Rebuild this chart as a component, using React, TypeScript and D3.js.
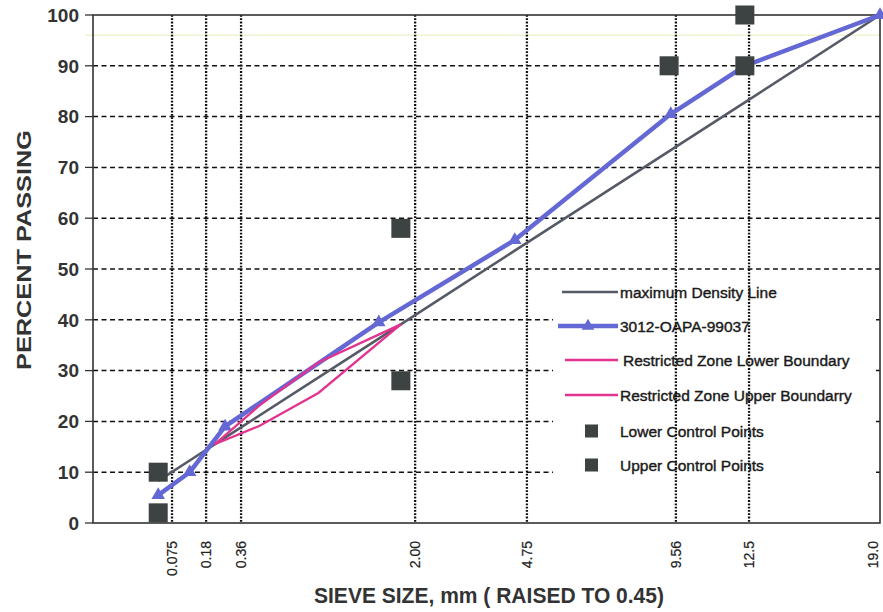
import React from "react";
import * as d3 from "d3";

// sieve sizes (mm) and percent passing
const sieves = [0.075, 0.18, 0.36, 2.0, 4.75, 9.56, 12.5, 19.0];
const maxDensity = [8.3, 12.3, 16.8, 36.3, 53.6, 73.4, 82.8, 100];
const gradation = [5.5, 10, 19, 39.5, 55.7, 80.5, 90, 100];

const zoneSieves = [0.3, 0.6, 1.18, 2.36];
const zoneLower = [15.5, 19.1, 25.6, 39.1];
const zoneUpper = [15.5, 23.1, 31.6, 39.1];

const lowerCtrlSieves = [0.075, 2.36, 12.5];
const lowerCtrl = [2, 28, 90];
const upperCtrlSieves = [0.075, 2.36, 9.5, 12.5];
const upperCtrl = [10, 58, 90, 100];

// where the dotted lines / labels sit on the chart (mm)
const tickLabels = ["0.075", "0.18", "0.36", "2.00", "4.75", "9.56", "12.5", "19.0"];
const tickAt = [0.115, 0.255, 0.464, 2.61, 5.06, 9.75, 12.68, 18.6];
const yTicks = [0, 10, 20, 30, 40, 50, 60, 70, 80, 90, 100];

const legendItems = [
  "maximum Density Line",
  "3012-OAPA-99037",
  "Restricted Zone Lower Boundary",
  "Restricted Zone Upper Boundarry",
  "Lower Control Points",
  "Upper Control Points",
];

const W = 883;
const H = 612;
const FONT = "'Liberation Sans', Arial, Helvetica, sans-serif";
const BLUE = "#6468d4";
const PINK = "#e2338f";
const GREY = "#555a66";
const SQ = "#3d4242";

export default function App() {
  const x = d3.scalePow().exponent(0.45).domain([0, 19]).range([93, 880]);
  const y = d3.scaleLinear().domain([0, 100]).range([523, 15]);
  const [x0, x1] = x.range();
  const [y0, y1] = y.range();

  const line = d3
    .line<[number, number]>()
    .x((d) => x(d[0]))
    .y((d) => y(d[1]));

  const pair = (xs: number[], ys: number[]) =>
    xs.map((s, i) => [s, ys[i]] as [number, number]);

  const tri = d3.symbol(d3.symbolTriangle, 80)();
  const triSmall = d3.symbol(d3.symbolTriangle, 70)();

  const rows = [292, 326, 360, 395, 431, 465];
  const lx0 = 558;
  const lx1 = 618;

  return (
    <svg
      width={W}
      height={H}
      style={{ position: "absolute", left: 0, top: 0, background: "#fff" }}
      fontFamily={FONT}
    >
      <rect width={W} height={H} fill="#fff" />

      {/* faint scan line */}
      <line x1={85} x2={x1} y1={y(96)} y2={y(96)} stroke="#eef4cc" strokeWidth={1.5} />

      {/* horizontal dashed grid */}
      {yTicks.slice(1, -1).map((t) => (
        <line
          key={t}
          x1={x0}
          x2={x1}
          y1={y(t)}
          y2={y(t)}
          stroke="#111"
          strokeWidth={1.5}
          strokeDasharray="5,3.5"
        />
      ))}

      {/* legend background */}
      <rect x={553} y={276} width={323} height={210} fill="#fff" />

      {/* vertical dotted grid */}
      {tickAt.slice(0, -1).map((s, i) => (
        <line
          key={i}
          x1={x(s)}
          x2={x(s)}
          y1={y1}
          y2={y0}
          stroke="#111"
          strokeWidth={2.3}
          strokeDasharray="1.8,1.5"
        />
      ))}

      {/* frame */}
      <rect x={x0} y={y1} width={x1 - x0} height={y0 - y1} fill="none" stroke="#333" strokeWidth={1.6} />

      {/* y ticks & labels */}
      {yTicks.map((t) => (
        <g key={t}>
          <line x1={85} x2={x0} y1={y(t)} y2={y(t)} stroke="#333" strokeWidth={1.3} />
          <text
            x={79}
            y={y(t)}
            dy="0.36em"
            textAnchor="end"
            fontSize={19}
            fontWeight="bold"
            fill="#333"
          >
            {t}
          </text>
        </g>
      ))}

      {/* x labels */}
      {tickAt.map((s, i) => (
        <text
          key={i}
          transform={`translate(${x(s) + 5},541) rotate(-90)`}
          textAnchor="end"
          fontSize={14}
          fill="#222"
          stroke="#222"
          strokeWidth={0.2}
        >
          {tickLabels[i]}
        </text>
      ))}

      {/* axis titles */}
      <text
        transform="translate(31,250) rotate(-90)"
        textAnchor="middle"
        fontSize={21}
        fontWeight="bold"
        fill="#333"
        textLength={240}
        lengthAdjust="spacingAndGlyphs"
      >
        PERCENT PASSING
      </text>
      <text
        x={489}
        y={603}
        textAnchor="middle"
        fontSize={22}
        fontWeight="bold"
        fill="#333"
        textLength={350}
        lengthAdjust="spacingAndGlyphs"
      >
        SIEVE SIZE, mm ( RAISED TO 0.45)
      </text>

      {/* series */}
      <path d={line(pair(sieves, maxDensity)) ?? ""} fill="none" stroke={GREY} strokeWidth={2.6} />
      <path
        d={line(pair(sieves, gradation)) ?? ""}
        fill="none"
        stroke={BLUE}
        strokeWidth={4.5}
        strokeLinejoin="round"
      />
      {sieves.map((s, i) => (
        <path key={i} d={tri ?? ""} transform={`translate(${x(s)},${y(gradation[i])})`} fill={BLUE} />
      ))}
      <path d={line(pair(zoneSieves, zoneLower)) ?? ""} fill="none" stroke={PINK} strokeWidth={2.3} />
      <path d={line(pair(zoneSieves, zoneUpper)) ?? ""} fill="none" stroke={PINK} strokeWidth={2.3} />

      {pair(lowerCtrlSieves, lowerCtrl)
        .concat(pair(upperCtrlSieves, upperCtrl))
        .map(([s, v], i) => (
          <rect key={i} x={x(s) - 9.5} y={y(v) - 9.5} width={19} height={19} fill={SQ} />
        ))}

      {/* legend */}
      <line x1={lx0 + 4} x2={lx1} y1={rows[0]} y2={rows[0]} stroke={GREY} strokeWidth={2.6} />
      <line x1={lx0} x2={lx1} y1={rows[1]} y2={rows[1]} stroke={BLUE} strokeWidth={4.5} />
      <path d={triSmall ?? ""} transform={`translate(${(lx0 + lx1) / 2},${rows[1]})`} fill={BLUE} />
      <line x1={lx0 + 7} x2={lx1} y1={rows[2]} y2={rows[2]} stroke={PINK} strokeWidth={2.3} />
      <line x1={lx0 + 7} x2={lx1} y1={rows[3]} y2={rows[3]} stroke={PINK} strokeWidth={2.3} />
      <rect x={585} y={rows[4] - 6.5} width={13} height={13} fill={SQ} />
      <rect x={585} y={rows[5] - 6.5} width={13} height={13} fill={SQ} />
      {legendItems.map((t, i) => (
        <text
          key={t}
          x={i === 2 ? 623 : 620}
          y={rows[i]}
          dy="0.36em"
          fontSize={15.5}
          fill="#1a1a1a"
          stroke="#1a1a1a"
          strokeWidth={0.4}
        >
          {t}
        </text>
      ))}
    </svg>
  );
}
